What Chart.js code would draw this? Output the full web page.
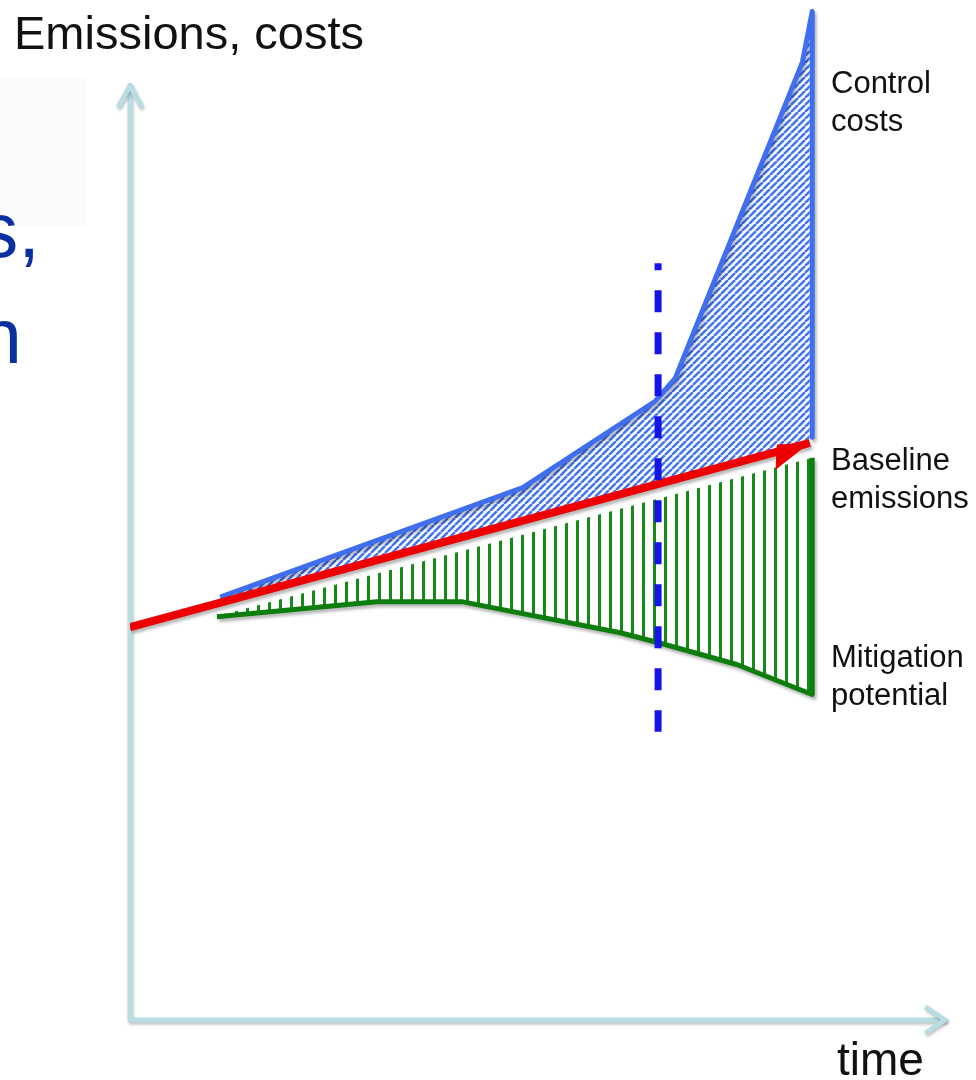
<!DOCTYPE html>
<html>
<head>
<meta charset="utf-8">
<script src="https://cdn.jsdelivr.net/npm/chart.js@4.4.1/dist/chart.umd.min.js"></script>
<style>
  body { margin: 0; background: #fff; }
  canvas { display: block; }
</style>
</head>
<body>
<canvas id="mitigationChart" width="976" height="1080"></canvas>
<script>
// values (x = time, y = emissions / costs, arbitrary units)
const baselineX = [0, 82.9];
const baselineY = [42.0, 61.7];

const costsX = [11.0, 47.9, 64.0, 66.5, 82.0, 83.2, 83.2];
const costsY = [45.2, 56.9, 66.1, 68.6, 102.4, 107.8, 62.3];

const mitigationX = [10.6, 30.1, 40.6, 59.8, 64.6, 74.0, 83.2, 83.2];
const mitigationY = [43.1, 44.7, 44.7, 41.4, 40.3, 38.0, 34.8, 60.1];

const hatchTopX = [11.6, 83.2];
const hatchTopY = [43.4, 60.1];

const policyX = [64.4, 64.4];
const policyY = [80.9, 30.8];

const axisEndX = 99.4;
const axisEndY = 99.9;

const labels = {
    yTitle: 'Emissions, costs',
    xTitle: 'time',
    costs: ['Control', 'costs'],
    baseline: ['Baseline', 'emissions'],
    mitigation: ['Mitigation', 'potential']
};

const toPoints = (xs, ys) => xs.map((x, i) => ({ x: x, y: ys[i] }));

// diagonal blue hatch (bottom-left to top-right)
function makeDiagonalPattern() {
    const n = 7;
    const c = document.createElement('canvas');
    c.width = n; c.height = n;
    const g = c.getContext('2d');
    g.fillStyle = '#ffffff';
    g.fillRect(0, 0, n, n);
    g.strokeStyle = '#4274f2';
    g.lineWidth = 2.5;
    [[-n, n, 0, 0], [0, n, n, 0], [n, n, 2 * n, 0]].forEach(s => {
        g.beginPath();
        g.moveTo(s[0], s[1]);
        g.lineTo(s[2], s[3]);
        g.stroke();
    });
    return g.createPattern(c, 'repeat');
}

// vertical green hatch
function makeVerticalPattern() {
    const c = document.createElement('canvas');
    c.width = 11; c.height = 4;
    const g = c.getContext('2d');
    g.fillStyle = '#168a16';
    g.fillRect(4, 0, 3, 4);
    return g.createPattern(c, 'repeat');
}

const ctx = document.getElementById('mitigationChart').getContext('2d');

const sketchPlugin = {
    id: 'sketch',
    beforeDatasetsDraw(chart) {
        const c = chart.ctx;
        const xs = chart.scales.x, ys = chart.scales.y;
        const x0 = xs.getPixelForValue(0), y0 = ys.getPixelForValue(0);
        const xe = xs.getPixelForValue(axisEndX), ye = ys.getPixelForValue(axisEndY);

        // faint box + cut-off title text at the left edge
        c.save();
        c.fillStyle = '#f9fafc';
        c.fillRect(0, 78, 86, 148);
        c.fillStyle = '#0a2fa0';
        c.font = '78px "Liberation Sans", Arial, sans-serif';
        c.textAlign = 'right';
        c.textBaseline = 'alphabetic';
        c.fillText('s,', 40, 257);
        c.fillText('n', 22, 363);
        c.restore();

        // axes with open arrow heads
        c.save();
        c.shadowColor = 'rgba(0,0,0,0.25)';
        c.shadowOffsetX = 1; c.shadowOffsetY = 2; c.shadowBlur = 3;
        c.strokeStyle = '#b8dde2';
        c.lineWidth = 5;
        c.lineCap = 'round';
        c.lineJoin = 'round';
        c.beginPath();
        c.moveTo(x0, ye); c.lineTo(x0, y0); c.lineTo(xe, y0);
        c.stroke();
        c.beginPath();
        c.moveTo(x0 - 11, ye + 20); c.lineTo(x0, ye); c.lineTo(x0 + 11, ye + 20);
        c.stroke();
        c.beginPath();
        c.moveTo(xe - 18, y0 - 12); c.lineTo(xe, y0); c.lineTo(xe - 18, y0 + 12);
        c.stroke();
        c.restore();
    },
    beforeDatasetDraw(chart, args) {
        const ds = chart.data.datasets[args.index];
        chart.ctx.save();
        if (ds.shadow) {
            chart.ctx.shadowColor = 'rgba(0,0,0,0.28)';
            chart.ctx.shadowOffsetX = 2;
            chart.ctx.shadowOffsetY = 3;
            chart.ctx.shadowBlur = 3;
        }
    },
    afterDatasetDraw(chart, args) {
        chart.ctx.restore();
        const ds = chart.data.datasets[args.index];
        if (!ds.arrowHead) return;
        // arrow head at the end of the baseline
        const pts = chart.getDatasetMeta(args.index).data;
        const a = pts[pts.length - 2], b = pts[pts.length - 1];
        const ang = Math.atan2(b.y - a.y, b.x - a.x);
        const c = chart.ctx;
        c.save();
        c.translate(b.x, b.y);
        c.rotate(ang);
        c.fillStyle = ds.borderColor;
        c.beginPath();
        c.moveTo(0, 0);
        c.lineTo(-32, -7);
        c.lineTo(-36, 4);
        c.lineTo(-40, 17);
        c.closePath();
        c.fill();
        c.restore();
    },
    afterDraw(chart) {
        const c = chart.ctx;
        c.save();
        c.fillStyle = '#111';
        c.textBaseline = 'alphabetic';
        c.textAlign = 'left';
        c.font = '47px "Liberation Sans", Arial, sans-serif';
        c.fillText(labels.yTitle, 14, 49);
        c.font = '46px "Liberation Sans", Arial, sans-serif';
        c.fillText(labels.xTitle, 837, 1075);
        c.font = '31px "Liberation Sans", Arial, sans-serif';
        const block = (lines, x, y) => lines.forEach((t, i) => c.fillText(t, x, y + i * 38));
        block(labels.costs, 831, 93);
        block(labels.baseline, 831, 470);
        block(labels.mitigation, 831, 667);
        c.restore();
    }
};

new Chart(ctx, {
    type: 'line',
    data: {
        datasets: [
            {
                label: 'Policy date',
                data: toPoints(policyX, policyY),
                borderColor: '#1414e6',
                borderWidth: 7,
                borderDash: [22, 20],
                borderDashOffset: 15,
                pointRadius: 0,
                fill: false
            },
            {
                label: 'Baseline emissions',
                data: toPoints(baselineX, baselineY),
                borderColor: '#ee0000',
                borderWidth: 8,
                pointRadius: 0,
                fill: false,
                shadow: true,
                arrowHead: true
            },
            {
                label: 'Control costs',
                data: toPoints(costsX, costsY),
                borderColor: '#3f6ff0',
                borderWidth: 5,
                backgroundColor: makeDiagonalPattern(),
                pointRadius: 0,
                fill: { target: 1 },
                shadow: true
            },
            {
                label: 'Mitigation potential',
                data: toPoints(mitigationX, mitigationY),
                borderColor: '#0d7d0d',
                borderWidth: 5,
                pointRadius: 0,
                fill: false,
                shadow: true
            },
            {
                label: 'Hatch top',
                data: toPoints(hatchTopX, hatchTopY),
                borderWidth: 0,
                borderColor: 'rgba(0,0,0,0)',
                backgroundColor: makeVerticalPattern(),
                pointRadius: 0,
                fill: { target: 3 }
            }
        ]
    },
    options: {
        responsive: false,
        animation: false,
        devicePixelRatio: 1,
        layout: { padding: { left: 130, right: 26, top: 5, bottom: 60 } },
        scales: {
            x: { type: 'linear', min: 0, max: 100, display: false },
            y: { type: 'linear', min: 0, max: 108.5, display: false }
        },
        plugins: {
            legend: { display: false },
            tooltip: { enabled: false }
        },
        elements: { line: { tension: 0, borderJoinStyle: 'round', borderCapStyle: 'butt' } }
    },
    plugins: [sketchPlugin]
});
</script>
</body>
</html>
